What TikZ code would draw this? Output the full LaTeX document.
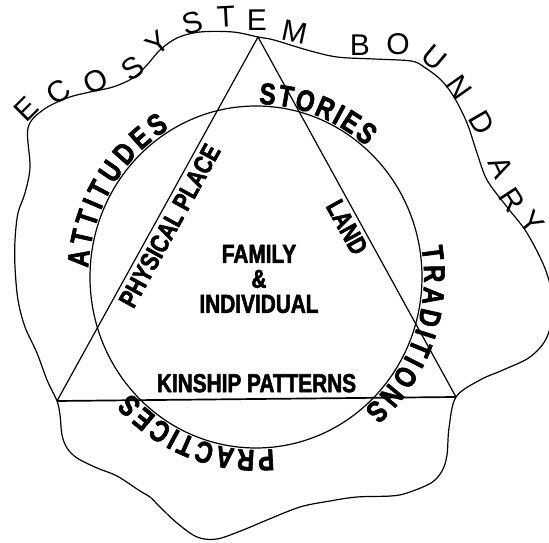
\documentclass[tikz,border=0pt]{standalone}
\usepackage{fontspec}
\setmainfont{Liberation Sans}
\newfontfamily\narrowfont[FakeStretch=0.8,FakeBold=2]{Liberation Sans}
\newcommand{\arcfont}{\narrowfont\bfseries\fontsize{30}{30}\selectfont}
\usetikzlibrary{positioning,calc,decorations.text}

\begin{document}
\begin{tikzpicture}[x=1pt,y=1pt,line width=1.2pt,line join=round,
  lbl/.style={font=\narrowfont\bfseries\fontsize{26}{25}\selectfont,inner sep=1pt},
  rimch/.style={font=\fontsize{30}{30}\selectfont,inner sep=0pt},
  arclbl/.style={decorate,decoration={text along path,raise=2pt,
    text align={fit to path},text={|\arcfont|#1}}}]
\useasboundingbox (0,0) rectangle (549,543);
\coordinate (mid) at (256,266);
\coordinate (top) at (258,506);
\coordinate (bl) at (57,142);
\coordinate (br) at (456,146);

% ecosystem boundary
\draw plot[smooth cycle,tension=0.55] coordinates {(top) (274,503) (307,493)
  (337,486) (374,484) (411,482) (424,476) (441,463) (454,446) (467,420)
  (477,390) (487,363) (507,336) (527,310) (546,272) (553,238) (547,206)
  (530,186) (503,173) (480,163) (br) (449,115) (447,88) (442,72) (431,60)
  (407,50) (391,47) (357,46) (330,42) (300,36) (267,23) (243,13) (217,4)
  (197,6) (177,20) (160,36) (150,46) (140,52) (117,67) (97,75) (77,85)
  (67,95) (62,108) (60,128) (bl) (47,163) (37,190) (25,216) (18,243)
  (15,276) (15,303) (18,330) (25,350) (30,376) (28,415) (43,433) (67,445)
  (90,451) (113,456) (133,465) (147,478) (160,493) (177,505) (200,511)
  (233,511)};

% triangle
\draw (top) -- (bl);
\draw (top) -- (br);
\draw[line width=1.7pt] (bl) -- (br);

% circle
\draw (mid) ellipse [x radius=166,y radius=171];

% inner labels
\node[lbl,align=center] (core) at (259,264) {FAMILY\\\&\\INDIVIDUAL};
\path (bl) -- node[lbl,anchor=south,inner ysep=6pt] (kin) {KINSHIP PATTERNS} (br);
\path (bl) -- node[lbl,sloped,anchor=north,inner ysep=4pt] (place) {PHYSICAL PLACE} (top);
\path (top) -- node[lbl,sloped,anchor=north,inner ysep=4pt,pos=0.51] (land) {LAND} (br);

% labels round the circle
\path[arclbl=ATTITUDES] ([shift={(mid)}]177:166 and 171)
  arc[start angle=177,end angle=121,x radius=166,y radius=171];
\path[arclbl=STORIES] ([shift={(mid)}]89:166 and 171)
  arc[start angle=89,end angle=49,x radius=166,y radius=171];
\path[arclbl=TRADITIONS] ([shift={(mid)}]10:166 and 171)
  arc[start angle=10,end angle=-50,x radius=166,y radius=171];
\path[arclbl=PRACTICES] ([shift={(mid)}]-84:166 and 171)
  arc[start angle=-84,end angle=-138,x radius=166,y radius=171];

% boundary letters
\foreach \ch/\px/\py/\ang [count=\i] in {E/26/434/45,C/58/451/35,O/96/462/25,
  S/133/475/35,Y/158/500/40,S/192/520/15,T/226/526/3,E/257/523/0,M/295/511/-12,
  B/360/498/0,O/398/499/0,U/434/485/-40,N/459/456/-55,D/482/420/-60,
  A/501/376/-65,R/512/343/-57,Y/532/320/-50}
  \node[rimch,rotate=\ang] (eco\i) at (\px,\py) {\ch};
\end{tikzpicture}
\end{document}
